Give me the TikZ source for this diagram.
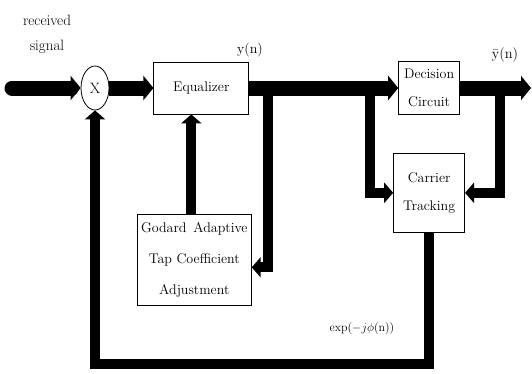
\documentclass[tikz,border=0pt]{standalone}
\usepackage{tikz}
\usetikzlibrary{arrows.meta, positioning, shapes.geometric}

\begin{document}
\begin{tikzpicture}[
  x=1pt, y=1pt,
  node distance=40pt and 40pt,
  block/.style={
    rectangle, draw, line width=0.8pt, fill=white,
    align=center, font=\fontsize{14}{28}\selectfont, inner sep=1pt
  },
  mixer/.style={
    ellipse, draw, line width=0.8pt, fill=white,
    minimum width=28pt, minimum height=44pt, inner sep=0pt,
    font=\fontsize{15}{17}\selectfont
  },
  bus/.style={draw, line width=15pt, -{Triangle[length=10pt,width=24pt]}},
  fb/.style={draw, line width=10pt, -{Triangle[length=9pt,width=20pt]}},
  lbl/.style={font=\fontsize{14}{25}\selectfont, align=center}
]
  \useasboundingbox (0,0) rectangle (532,-373);

  \node [mixer] (mix) at (95,-88) {X};
  \node [block, right=44pt of mix, minimum width=95pt, minimum height=52pt] (eq) {Equalizer};
  \node [block, right=149pt of eq, minimum width=61pt, minimum height=53pt] (dec) {Decision\\Circuit};
  \node [block, below=100pt of eq, xshift=-7pt, minimum width=114pt, minimum height=91pt,
         font=\fontsize{14}{31}\selectfont] (tap) {Godard\enspace Adaptive\\Tap Coefficient\\Adjustment};
  \node [block, below=38pt of dec, minimum width=71pt, minimum height=79pt] (ctrk) {Carrier\\Tracking};

  % labels
  \node [lbl, font=\fontsize{15}{25}\selectfont] (rxlbl) at (47,-34) {received\\signal};
  \node [lbl] (ylbl) at (250,-50) {y(n)};
  \node [lbl] (ybarlbl) at (505,-55) {$\bar{\mathrm{y}}(\mathrm{n})$};
  \node [lbl, font=\fontsize{12}{20}\selectfont] (explbl) at (362,-328) {exp($-j\phi$(n))};

  \coordinate (in) at (12,-88);
  \coordinate (out) at (531,-88);
  \coordinate (tapA) at (268,-88);
  \coordinate (ctA) at (370,-88);
  \coordinate (ctB) at (500,-88);
  \coordinate (loop) at (95,-364);

  % signal path
  \path [bus, line cap=round] (in) -- (mix);
  \path [bus] (mix) -- (eq);
  \path [bus] (eq) -- (dec);
  \path [bus] (dec) -- (out);

  % branches and feedback
  \path [fb] (tapA) |- ([yshift=-7pt]tap.east);
  \path [fb] ([xshift=-3pt]tap.north) -- ([xshift=-3pt]tap.north |- eq.south);
  \path [fb] (ctA) |- (ctrk.west);
  \path [fb] (ctB) |- (ctrk.east);
  \path [fb] (ctrk.south) -- (ctrk.south |- loop) -| (mix.south);

\end{tikzpicture}
\end{document}
